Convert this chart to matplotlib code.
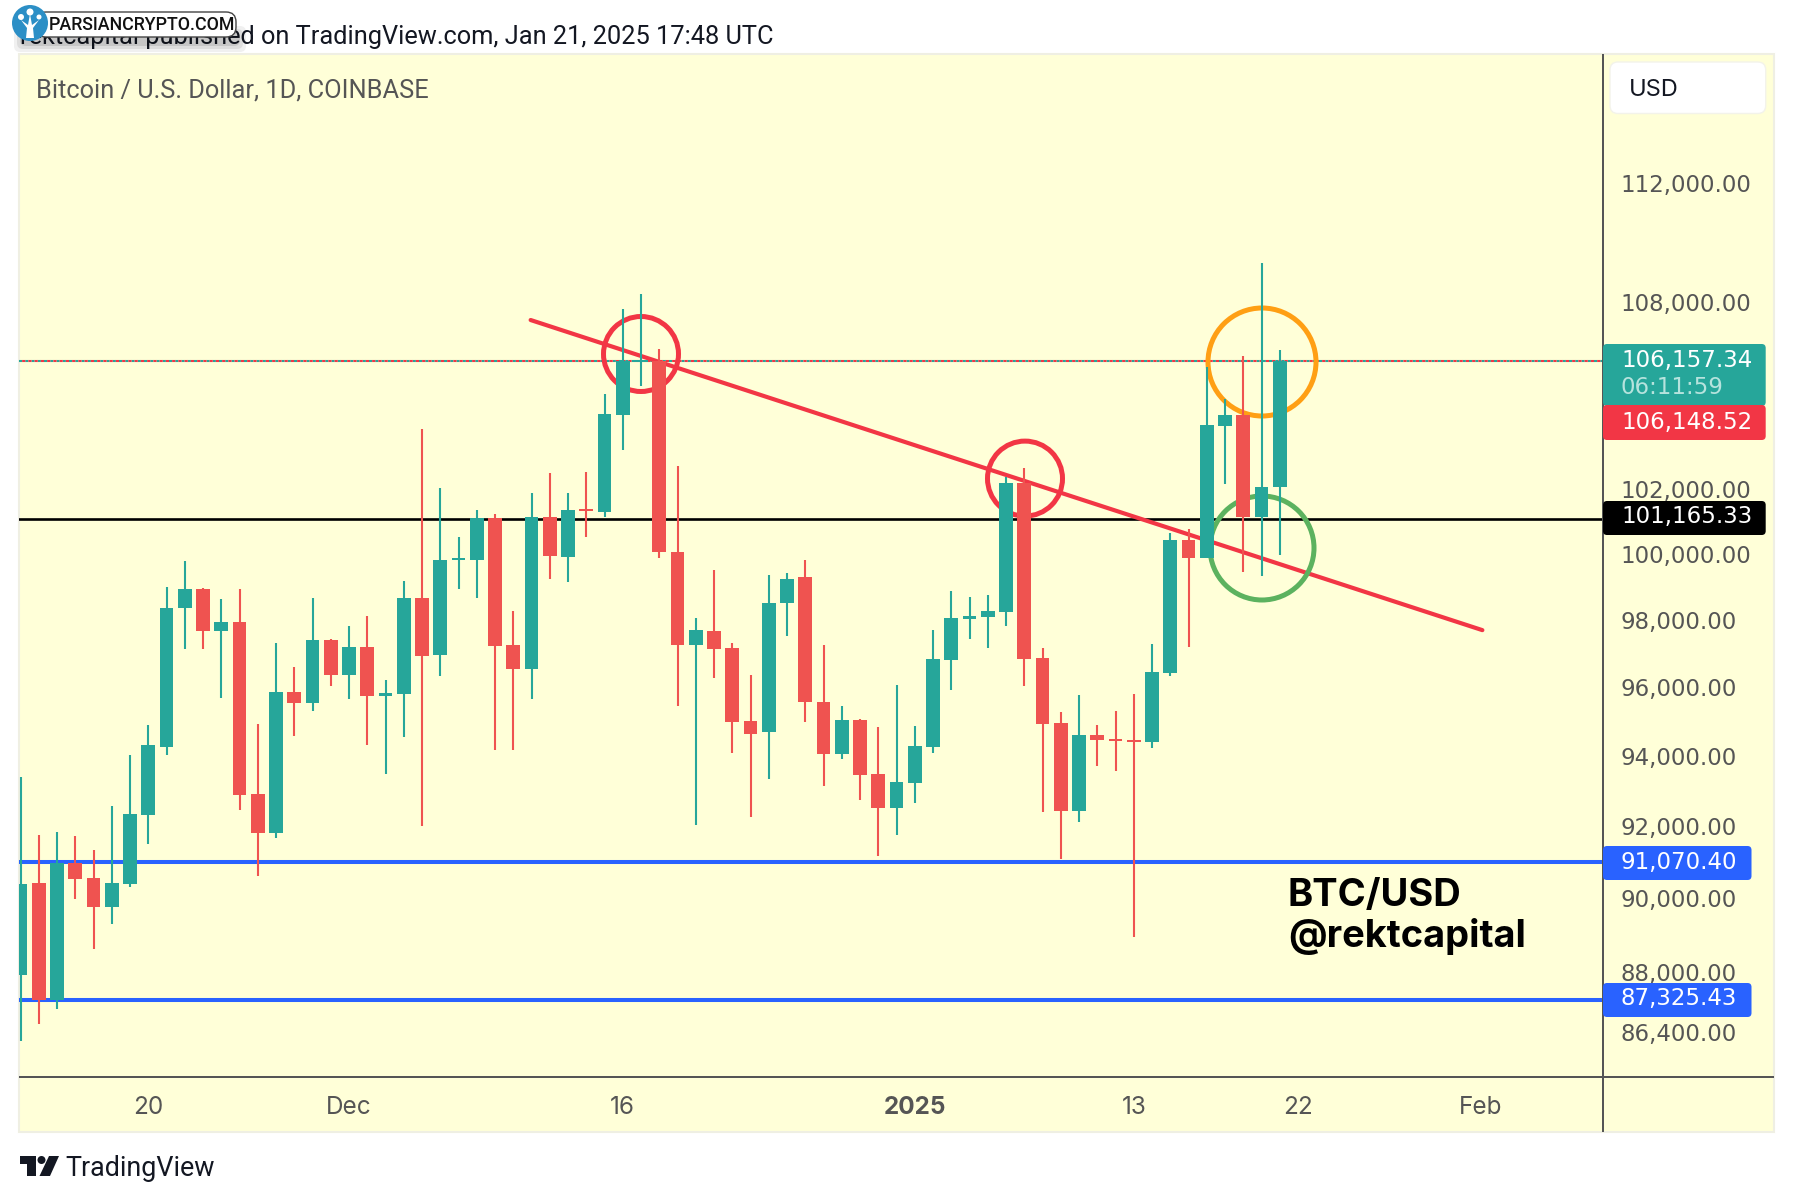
import matplotlib
matplotlib.use("Agg")
import matplotlib.pyplot as plt
from matplotlib.patches import Circle, FancyBboxPatch, Polygon, Rectangle
from matplotlib.ticker import NullLocator
from matplotlib.transforms import Affine2D

W, H = 1794, 1202
UP = "#26a69a"
DOWN = "#ef5350"
RED = "#f23645"
BLUE = "#2962ff"
PANEL = "#ffffd8"
TEXT = "#555555"

# daily candles, first one is cut by the left edge (day 0 = Nov 14)
days = list(range(-1, 69))
opens = [87985, 90495, 87315, 91050, 90634, 89834, 90467, 92396, 94338, 98434,
         99007, 97744, 98013, 92991, 91889, 95938, 95615, 97475, 96438, 97267,
         95821, 95879, 98735, 97030, 99889, 99889, 101180, 97327, 96615, 101211,
         99981, 101459, 101366, 104418, 106125, 106157, 100134, 97327, 97744, 97238,
         95090, 94772, 98585, 99371, 95656, 94146, 95119, 93563, 92606, 93314,
         94338, 96896, 98118, 98175, 98326, 102269, 96940, 95032, 92521, 94685,
         94569, 94540, 94482, 96497, 100502, 99959, 104068, 104430, 101211, 102143]
highs = [93477, 91833, 91917, 91805, 91413, 92651, 94107, 94974, 99069, 99859,
         99038, 98705, 99007, 95003, 97386, 96674, 98735, 97505, 97893, 98193,
         96290, 99250, 103971, 102113, 100594, 101428, 101304, 98344, 101973, 102582,
         101958, 102630, 105091, 107859, 108370, 106547, 102802, 98133, 99584, 97386,
         96438, 99432, 99493, 99889, 97327, 95527, 95148, 94917, 96143, 94945,
         97774, 98958, 98766, 98827, 102475, 102740, 97238, 95353, 95850, 94974,
         95382, 95879, 97356, 100718, 100855, 105974, 104930, 106320, 109375, 106514]
lows = [86227, 86676, 87075, 90054, 88688, 89368, 90385, 91581, 94107, 97208,
        97208, 95762, 92538, 90689, 91749, 94656, 95382, 96114, 95733, 94396,
        93563, 94627, 92085, 96408, 99007, 98735, 94250, 94250, 95733, 99310,
        99220, 100609, 101211, 103307, 105349, 99950, 95540, 92125, 96364, 94163,
        92340, 93434, 97595, 95075, 93220, 93992, 92832, 91245, 91850, 92736,
        94178, 95996, 97505, 97238, 97893, 96114, 92481, 91161, 92199, 93806,
        93648, 89014, 94324, 96420, 97267, 99959, 102238, 99538, 99401, 100042]
closes = [90467, 87315, 91070, 90606, 89834, 90495, 92425, 94396, 98434, 99007,
          97744, 98013, 92963, 91889, 95938, 95615, 97475, 96438, 97267, 95821,
          95908, 98735, 97000, 99889, 99950, 101180, 97297, 96615, 101211, 100011,
          101428, 101397, 104450, 106157, 106189, 100134, 97341, 97774, 97208, 95061,
          94714, 98585, 99310, 95645, 94146, 95119, 93542, 92606, 93334, 94367,
          96911, 98133, 98193, 98344, 102269, 96920, 95003, 92521, 94685, 94540,
          94511, 94500, 96526, 100502, 99959, 104100, 104430, 101211, 102143, 106157]

price_ticks = [112000, 108000, 102000, 100000, 98000, 96000, 94000, 92000, 90000, 88000, 86400]
price_tick_labels = ["112,000.00", "108,000.00", "102,000.00", "100,000.00", "98,000.00",
                     "96,000.00", "94,000.00", "92,000.00", "90,000.00", "88,000.00", "86,400.00"]
time_ticks = [6, 17, 32, 48, 60, 69, 79]
time_tick_labels = ["20", "Dec", "16", "2025", "13", "22", "Feb"]

level_black = 101165.33
level_blue_hi = 91070.40
level_blue_lo = 87325.43
last_price = 106157.34
prev_price = 106148.52
trend_x = [26.95, 79.1]
trend_y = [107497, 97774]

plt.rcParams["font.family"] = "Roboto"

fig = plt.figure(figsize=(W / 100, H / 100), dpi=100, facecolor="white")
# pixel coordinates, y down, same as the reference image
px = Affine2D().scale(1, -1).translate(0, H)


def ptext(x, y, s, **kw):
    return fig.text(x, y, s, transform=px, **kw)


def box(x0, y0, x1, y1, color, z=3, rad=4, **kw):
    p = FancyBboxPatch((x0 + rad, y0 + rad), x1 - x0 - 2 * rad, y1 - y0 - 2 * rad,
                       boxstyle=f"round,pad={rad},rounding_size={rad}",
                       facecolor=color, edgecolor=kw.pop("edgecolor", "none"),
                       transform=px, zorder=z, **kw)
    fig.add_artist(p)


fig.add_artist(Rectangle((19.4, 54), 1754.6, 1078, facecolor=PANEL, edgecolor="#efefe3",
                         linewidth=1.5, transform=px, zorder=-1))

ax = fig.add_axes([19.4 / W, 1 - 1077 / H, (1603 - 19.4) / W, (1077 - 54) / H])
ax.patch.set_alpha(0)
ax.set_yscale("log")
ax.set_xlim(-1.063, 85.71)
ax.set_ylim(85290, 116604)
for s in ax.spines.values():
    s.set_visible(False)

# horizontal levels and drawings sit under the candles
ax.axhline(last_price, color=UP, lw=1.5, ls=(0, (1.5, 1.5)), zorder=1)
ax.axhline(prev_price, color=RED, lw=1.5, ls=(1.5, (1.5, 1.5)), zorder=1)
ax.axhline(level_black, color="black", lw=1.9, zorder=1)
ax.axhline(level_blue_hi, color=BLUE, lw=2.9, zorder=1)
ax.axhline(level_blue_lo, color=BLUE, lw=2.9, zorder=1)
ax.plot(trend_x, trend_y, color=RED, lw=3.0, solid_capstyle="round", zorder=2)
for cx, cy, r, col in [(641, 354, 37.5, RED), (1025, 478.6, 37.5, RED),
                       (1262, 362, 54, "#ff9f14"), (1262, 548, 52, "#5cb25f")]:
    ax.add_patch(Circle((cx, cy), r, transform=px, fill=False, edgecolor=col, lw=3.6, zorder=2))

# candles
up_flags = [c >= o for o, c in zip(opens, closes)]
colors = [UP if u else DOWN for u in up_flags]
ax.vlines(days, lows, highs, colors=colors, lw=1.5, zorder=3)
bottoms = [min(o, c) for o, c in zip(opens, closes)]
heights = [max(abs(c - o), 40) for o, c in zip(opens, closes)]
ax.bar(days, heights, bottom=bottoms, width=0.76, color=colors, linewidth=0, zorder=4)

ax.yaxis.tick_right()
ax.set_yticks(price_ticks, price_tick_labels)
ax.yaxis.set_minor_locator(NullLocator())
ax.set_xticks(time_ticks, time_tick_labels)
ax.tick_params(axis="both", length=0, colors=TEXT)
ax.tick_params(axis="y", pad=12.4, labelsize=16.5, labelfontfamily="DejaVu Sans")
ax.tick_params(axis="x", pad=13.5, labelsize=17.5, labelfontfamily="Inter")
for lab in ax.get_xticklabels():
    if lab.get_text() == "2025":
        lab.set_fontweight("bold")
for lab in ax.get_yticklabels():
    lab.set_transform(lab.get_transform() + Affine2D().translate(0, 3))

# axis borders
fig.add_artist(Rectangle((1602, 54), 2, 1078, facecolor="#555555", transform=px, zorder=2))
fig.add_artist(Rectangle((19.4, 1076), 1754.6, 2, facecolor="#555555", transform=px, zorder=2))

# price tags on the right
box(1603, 344, 1765.7, 406, UP)
box(1603, 405, 1765.7, 440, RED)
box(1603, 501, 1765.7, 535, "black")
box(1603, 846, 1751.5, 880, BLUE)
box(1603, 983, 1751.5, 1017, BLUE)
tag_kw = dict(family="DejaVu Sans", fontsize=16.5, va="center", ha="left", zorder=5)
ptext(1621.5, 360, "106,157.34", color="white", **tag_kw)
ptext(1620, 387.5, "06:11:59", color="#b6e3dd", **tag_kw)
ptext(1621.5, 422.5, "106,148.52", color="white", **tag_kw)
ptext(1621.5, 517, "101,165.33", color="white", **tag_kw)
ptext(1620, 862.5, "91,070.40", color="white", **tag_kw)
ptext(1620, 999, "87,325.43", color="white", **tag_kw)

box(1610, 62, 1765.7, 113.5, "white", rad=8, edgecolor="#f3f3ea")
ptext(1629, 90, "USD", family="Inter", fontsize=17, color="#131722", va="center", zorder=5)

ptext(36.5, 90.5, "Bitcoin / U.S. Dollar, 1D, COINBASE", color=TEXT, fontsize=18.25, va="center")
ptext(20, 37, "rektcapital published on TradingView.com, Jan 21, 2025 17:48 UTC",
      color="#131722", fontsize=18.3, va="center", zorder=1)

ptext(1288, 906, "BTC/USD", family="Inter", fontsize=27.4, fontweight="bold", color="black",
      va="baseline", zorder=5)
ptext(1288, 947, "@rektcapital", family="Inter", fontsize=27.4, fontweight="bold", color="black",
      va="baseline", zorder=5)

# watermark pill, soft shadow made of a few stacked boxes
for grow, a in [(6, 0.06), (3, 0.08), (0, 0.10)]:
    box(20 - grow, 32 - grow, 240 + grow, 46 + grow, "#000000", z=2, rad=6, alpha=a)
box(36, 12, 236, 37, "white", z=3, rad=10, edgecolor="#444444", linewidth=1)
ptext(48.5, 25, "PARSIANCRYPTO.COM", family="Roboto", fontweight="medium", fontsize=12.8,
      color="#111111", va="center", zorder=5)
fig.add_artist(Circle((30, 23), 18, facecolor="#2c8fc6", transform=px, zorder=4))
fig.add_artist(Polygon([(26, 38), (34, 38), (33, 28), (39, 20), (32, 25), (30, 14), (28, 25), (21, 20), (27, 28)],
                       facecolor="white", transform=px, zorder=5))
for cx, cy, r in [(30, 12, 3.5), (21, 17, 3), (39, 17, 2.5)]:
    fig.add_artist(Circle((cx, cy), r, facecolor="white", transform=px, zorder=5))

# TradingView logo
logo = "#131722"
fig.add_artist(Polygon([(19.5, 1156), (36, 1156), (36, 1176), (27, 1176), (27, 1164), (19.5, 1164)],
                       facecolor=logo, transform=px))
fig.add_artist(Circle((41.5, 1160), 4, facecolor=logo, transform=px))
fig.add_artist(Polygon([(49, 1156), (59, 1156), (50, 1176), (39.5, 1176)], facecolor=logo, transform=px))
ptext(65.5, 1168, "TradingView", color=logo, fontsize=19.4, va="center")

fig.savefig("out.png", dpi=100)
